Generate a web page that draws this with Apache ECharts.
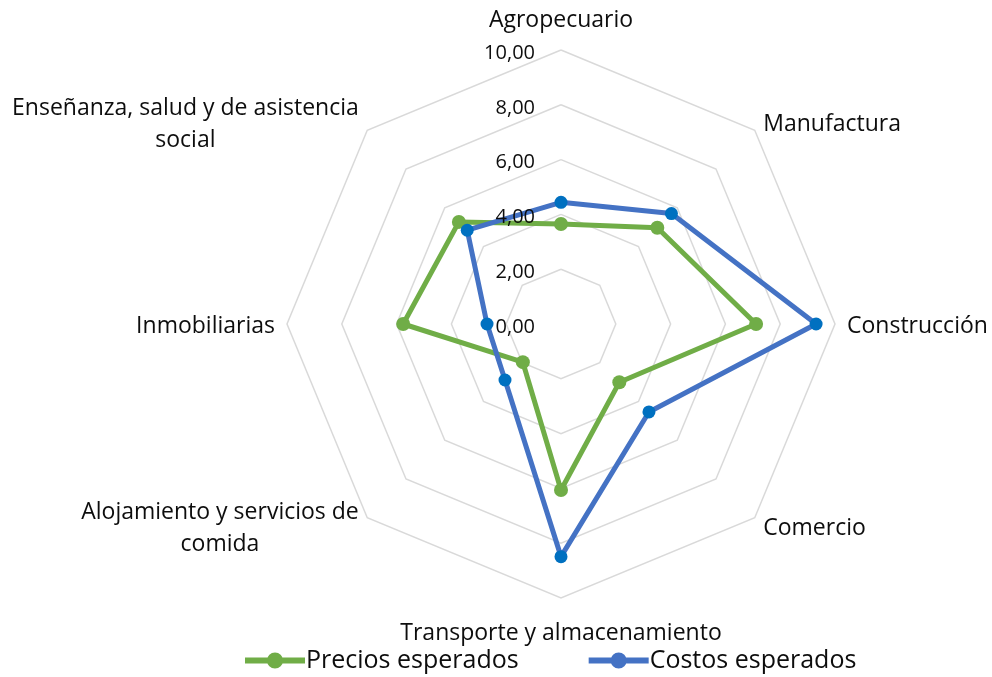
<!DOCTYPE html>
<html><head><meta charset="utf-8">
<script src="https://cdn.jsdelivr.net/npm/echarts@6/dist/echarts.min.js"></script>
<style>html,body{margin:0;padding:0;background:#fff}#c{width:992px;height:677px}</style>
</head><body><div id="c"></div>
<script>
const categories = ['Agropecuario', 'Manufactura', 'Construcción', 'Comercio',
  'Transporte y almacenamiento', 'Alojamiento y servicios de\ncomida', 'Inmobiliarias',
  'Enseñanza, salud y de asistencia\nsocial'];
const precios = [3.65, 4.97, 7.12, 3.01, 6.06, 1.97, 5.76, 5.27];
const costos  = [4.44, 5.70, 9.31, 4.54, 8.49, 2.89, 2.70, 4.84];
const seriesNames = ['Precios esperados', 'Costos esperados'];
const axisMin = 0, axisMax = 10, axisStep = 2;

const FONT = 'Open Sans';
const TXT = '#0d0d0d';
const GREEN = '#70AD47', BLUE_LINE = '#4472C4', BLUE_DOT = '#0070C0';
const CX = 561, CY = 324, R = 274;

// ECharts places radar indicators counter-clockwise; the reference runs clockwise.
const order = categories.map((_, i) => (categories.length - i) % categories.length);

const legendIcon = 'path://M0,5L60,5L60,11L0,11Z M22,8A8,8 0 1 1 38,8A8,8 0 1 1 22,8Z';

const chart = echarts.init(document.getElementById('c'), null, {renderer: 'canvas'});
chart.setOption({
  animation: false,
  backgroundColor: '#fff',
  textStyle: {fontFamily: FONT},
  legend: {
    top: 643, left: 240, itemWidth: 60, itemHeight: 16, itemGap: 70,
    textStyle: {fontFamily: FONT, fontSize: 25, color: TXT, padding: [0, 0, 0, -4]},
    data: [
      {name: seriesNames[0], icon: legendIcon, itemStyle: {color: GREEN}},
      {name: seriesNames[1], icon: legendIcon, itemStyle: {color: BLUE_LINE}}
    ]
  },
  polar: {center: [CX, CY], radius: R},
  angleAxis: {type: 'value', startAngle: 90, min: 0, max: 360, show: false},
  radiusAxis: {
    type: 'value', min: axisMin, max: axisMax, interval: axisStep,
    axisLine: {show: false}, axisTick: {show: false}, splitLine: {show: false},
    axisLabel: {
      fontFamily: FONT, fontSize: 20, color: TXT, margin: 26,
      formatter: v => '{t|' + v.toFixed(2).replace('.', ',') + '}',
      rich: {t: {fontFamily: FONT, fontSize: 20, color: TXT, padding: [6, 0, 0, 0]}}
    },
    z: 5
  },
  radar: {
    center: [CX, CY], radius: R, startAngle: 90, shape: 'polygon',
    splitNumber: (axisMax - axisMin) / axisStep,
    indicator: order.map(i => ({name: categories[i], min: axisMin, max: axisMax})),
    axisLine: {show: false},
    axisTick: {show: false},
    splitLine: {lineStyle: {color: '#D9D9D9', width: 1.5}},
    splitArea: {show: false},
    nameGap: 12,
    axisName: {
      color: TXT, fontFamily: FONT, fontSize: 23, padding: [7, 0, 2, 0],
      formatter: name => name.split('\n').map(l => '{c|' + l + '}').join('\n'),
      rich: {c: {align: 'center', fontFamily: FONT, fontSize: 23, color: TXT, lineHeight: 32}}
    }
  },
  series: [
    {
      type: 'radar', name: seriesNames[0], z: 2,
      symbol: 'circle', symbolSize: 14,
      lineStyle: {color: GREEN, width: 5},
      itemStyle: {color: GREEN},
      data: [{name: seriesNames[0], value: order.map(i => precios[i])}]
    },
    {
      type: 'radar', name: seriesNames[1], z: 3,
      symbol: 'circle', symbolSize: 13,
      lineStyle: {color: BLUE_LINE, width: 5},
      itemStyle: {color: BLUE_DOT},
      data: [{name: seriesNames[1], value: order.map(i => costos[i])}]
    }
  ]
});
</script></body></html>
